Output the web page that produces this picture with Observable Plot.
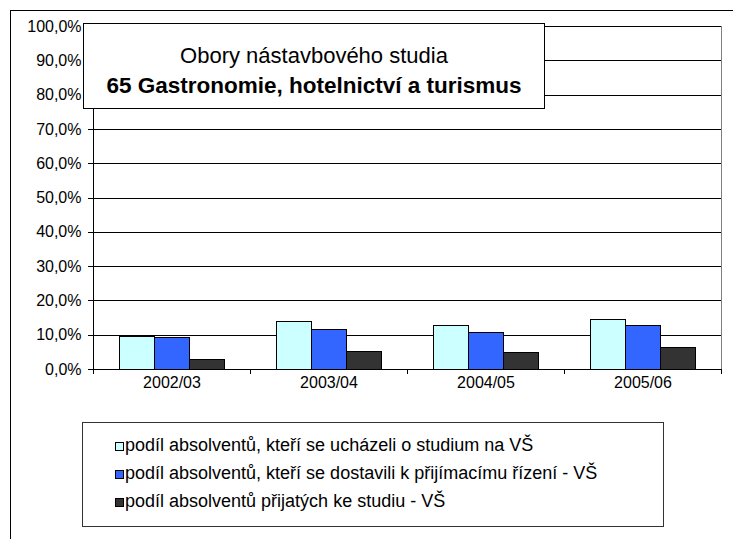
<!DOCTYPE html>
<html>
<head>
<meta charset="utf-8">
<script src="https://cdn.jsdelivr.net/npm/d3@7"></script>
<script src="https://cdn.jsdelivr.net/npm/@observablehq/plot@0.6"></script>
<style>
  html, body { margin: 0; padding: 0; background: #fff; }
  body { width: 733px; height: 539px; overflow: hidden; position: relative; font-family: Arial, "Liberation Sans", sans-serif; color: #000; }
  #frame { position: absolute; left: 10px; top: 10px; width: 740px; height: 560px; border-left: 1.5px solid #000; border-top: 1.5px solid #000; box-sizing: border-box; }
  #chart { position: absolute; left: 0; top: 0; }
  #title { position: absolute; left: 83px; top: 23px; width: 462px; height: 86px; box-sizing: border-box; border: 1.5px solid #000; background: #fff; text-align: center; padding-top: 17px; line-height: 30px; font-size: 22px; }
  #title .l2 { font-weight: bold; font-size: 22.5px; }
  #legend { position: absolute; left: 82px; top: 422px; width: 582px; height: 105px; box-sizing: border-box; border: 1px solid #333; background: #fff; padding-top: 10px; padding-left: 32px; font-size: 18px; }
  #legend .row { height: 28px; line-height: 24px; white-space: nowrap; }
  #legend .sw { display: inline-block; width: 7px; height: 7px; border: 1px solid #000; margin-right: 1px; vertical-align: 0px; }
</style>
</head>
<body>
<div id="chart"></div>
<div id="frame"></div>
<div id="title"><div>Obory nástavbového studia</div><div class="l2">65 Gastronomie, hotelnictví a turismus</div></div>
<div id="legend"></div>
<script>
const years = ["2002/03", "2003/04", "2004/05", "2005/06"];
const series = [
  "podíl absolventů, kteří se ucházeli o studium na VŠ",
  "podíl absolventů, kteří se dostavili k přijímacímu řízení - VŠ",
  "podíl absolventů přijatých ke studiu - VŠ"
];
const colors = ["#CCFFFF", "#3366FF", "#333333"];
const uchazeli = [0.095, 0.139, 0.127, 0.144];
const dostavili = [0.092, 0.114, 0.106, 0.127];
const prijati = [0.029, 0.051, 0.047, 0.063];
const yTicks = [0, 0.1, 0.2, 0.3, 0.4, 0.5, 0.6, 0.7, 0.8, 0.9, 1.0];

const valuesBySeries = [uchazeli, dostavili, prijati];
const data = [];
years.forEach((yr, i) => {
  series.forEach((s, j) => data.push({year: yr, series: s, value: valuesBySeries[j][i]}));
});
const fmt = d => d3.format(".1%")(d).replace(".", ",");

const chart = Plot.plot({
  width: 733,
  height: 539,
  marginLeft: 93,
  marginRight: 12,
  marginTop: 26,
  marginBottom: 170,
  style: {fontFamily: "Arial, 'Liberation Sans', sans-serif", fontSize: "16px", color: "black", background: "transparent", overflow: "visible"},
  fx: {domain: years, padding: 0, label: null},
  x: {domain: series, paddingInner: 0, paddingOuter: 0.74, axis: null},
  y: {domain: [0, 1], label: null, axis: null},
  color: {domain: series, range: colors},
  marks: [
    Plot.ruleY(yTicks.filter(d => d > 0), {stroke: "#000", strokeWidth: 1, shapeRendering: "crispEdges"}),
    Plot.barY(data, {fx: "year", x: "series", y: "value", fill: "series", stroke: "#000", strokeWidth: 1, shapeRendering: "crispEdges"}),
    Plot.ruleY([0], {stroke: "#000", strokeWidth: 1, shapeRendering: "crispEdges"}),
    Plot.axisY(yTicks, {anchor: "left", tickSize: 5, tickPadding: 7, tickFormat: fmt, label: null, shapeRendering: "crispEdges"}),
    Plot.axisFx({anchor: "bottom", tickSize: 0, tickPadding: 7, label: null})
  ]
});

document.getElementById("chart").appendChild(chart);

// axis line, plot-area right border and category boundary ticks, from Plot's scales
const fx = chart.scale("fx");
const y = chart.scale("y");
const xStart = fx.apply(years[0]);
const xEnd = fx.apply(years[years.length - 1]) + fx.bandwidth;
const g = d3.select(chart).append("g").attr("shape-rendering", "crispEdges");
g.append("line").attr("x1", xEnd).attr("x2", xEnd).attr("y1", y.apply(1)).attr("y2", y.apply(0)).attr("stroke", "#808080");
g.append("line").attr("x1", xStart).attr("x2", xStart).attr("y1", y.apply(1)).attr("y2", y.apply(0)).attr("stroke", "#000");
const edges = years.map(d => fx.apply(d)).concat([xEnd]);
g.selectAll("line.edge").data(edges).join("line").attr("class", "edge")
  .attr("x1", d => d).attr("x2", d => d)
  .attr("y1", y.apply(0)).attr("y2", y.apply(0) + 5).attr("stroke", "#000");

// legend
const legend = d3.select("#legend");
series.forEach((s, j) => {
  const row = legend.append("div").attr("class", "row");
  row.append("span").attr("class", "sw").style("background", colors[j]);
  row.append("span").text(s);
});
</script>
</body>
</html>
